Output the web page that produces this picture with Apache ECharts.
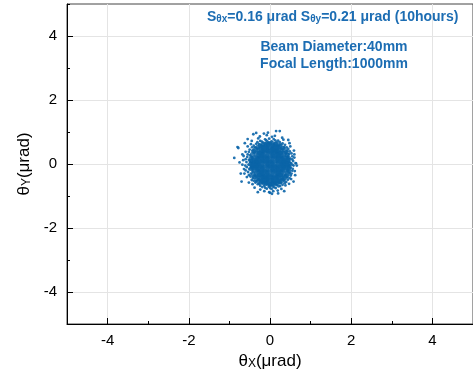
<!DOCTYPE html>
<html><head><meta charset="utf-8">
<script src="https://cdn.jsdelivr.net/npm/echarts@6/dist/echarts.min.js"></script>
<style>html,body{margin:0;padding:0;background:#fff}#c{width:473px;height:381px}</style>
</head><body><div id="c"></div>
<script>
const xTicks = [-4, -2, 0, 2, 4];
const yTicks = [-4, -2, 0, 2, 4];
const titleLine = 'S_θx=0.16 μrad S_θy=0.21 μrad (10hours)';
const noteLines = ['Beam Diameter:40mm', 'Focal Length:1000mm'];
// dense core of the cloud (estimated)
const corePoints = [
  [-0.36,-0.15],[-0.36,0],[-0.36,0.15],
  [-0.24,-0.4],[-0.24,-0.3],[-0.24,-0.15],[-0.24,0],[-0.24,0.15],[-0.24,0.3],[-0.24,0.4],
  [-0.12,-0.5],[-0.12,-0.45],[-0.12,-0.3],[-0.12,-0.15],[-0.12,0],[-0.12,0.15],[-0.12,0.3],[-0.12,0.45],[-0.12,0.5],
  [0,-0.55],[0,-0.45],[0,-0.3],[0,-0.15],[0,0],[0,0.15],[0,0.3],[0,0.45],[0,0.55],
  [0.12,-0.5],[0.12,-0.45],[0.12,-0.3],[0.12,-0.15],[0.12,0],[0.12,0.15],[0.12,0.3],[0.12,0.45],[0.12,0.5],
  [0.24,-0.4],[0.24,-0.3],[0.24,-0.15],[0.24,0],[0.24,0.15],[0.24,0.3],[0.24,0.4],
  [0.36,-0.15],[0.36,0],[0.36,0.15],
  [-0.3,0.3],[0.3,-0.3],[-0.3,-0.3],[0.3,0.3],[-0.18,0.48],[0.18,-0.48],[0.18,0.48],[-0.18,-0.48],
  [-0.3,-0.08],[-0.3,0.08],[-0.18,-0.23],[-0.18,0.23],[-0.06,-0.38],[0.06,0.38],[0.18,0.23],[0.18,-0.23],
  [0.3,0.08],[0.3,-0.08],[-0.06,0.08],[0.06,-0.08],[-0.4,0.08],[0.4,-0.08],[0.4,0.08],[-0.4,-0.08]
];
// medium-density ring around the core (estimated)
const ringPoints = [
  [0.45,0.12],[0.42,0.28],[0.36,0.44],[0.25,0.55],[0.14,0.62],[-0.04,0.62],[-0.18,0.6],[-0.3,0.52],[-0.4,0.4],[-0.46,0.18],
  [-0.44,-0.06],[-0.41,-0.32],[-0.33,-0.46],[-0.22,-0.56],[-0.1,-0.6],[0.06,-0.62],[0.18,-0.6],[0.28,-0.52],[0.37,-0.42],[0.44,-0.3],
  [0.46,-0.15],[0.47,0.0],[-0.47,0.0],[0.0,0.64],[0.0,-0.64],
  [0.44,0.2],[0.4,0.36],[0.31,0.5],[0.2,0.59],[0.08,0.63],[-0.1,0.63],[-0.24,0.57],[-0.36,0.46],[-0.44,0.3],[-0.47,0.09],
  [-0.46,-0.15],[-0.38,-0.4],[-0.28,-0.52],[-0.16,-0.59],[0.0,-0.63],[0.12,-0.61],[0.24,-0.56],[0.33,-0.47],[0.41,-0.37],[0.46,-0.23],[0.47,-0.07]
];
// scattered points around the core (estimated)
const spreadPoints = [
  [0.52,0.03],[0.50,0.17],[0.47,0.31],[0.43,0.41],[0.35,0.53],[0.27,0.61],[0.16,0.68],[0.04,0.71],[-0.06,0.70],[-0.17,0.67],
  [-0.27,0.62],[-0.36,0.52],[-0.43,0.42],[-0.49,0.27],[-0.52,0.13],[-0.53,-0.02],[-0.51,-0.16],[-0.47,-0.30],[-0.42,-0.43],[-0.34,-0.54],
  [-0.26,-0.62],[-0.14,-0.68],[-0.03,-0.71],[0.07,-0.70],[0.17,-0.66],[0.27,-0.60],[0.35,-0.52],[0.42,-0.41],[0.48,-0.27],[0.51,-0.12],
  [0.57,0.09],[0.55,0.24],[0.49,0.39],[0.41,0.52],[0.31,0.64],[0.20,0.73],[0.09,0.78],[-0.02,0.79],[-0.12,0.77],[-0.24,0.72],
  [-0.34,0.63],[-0.44,0.52],[-0.52,0.38],[-0.56,0.22],[-0.58,0.06],[-0.57,-0.10],[-0.54,-0.25],[-0.48,-0.39],[-0.40,-0.52],[-0.30,-0.63],
  [-0.19,-0.72],[-0.08,-0.77],[0.04,-0.78],[0.14,-0.75],[0.25,-0.69],[0.36,-0.60],[0.44,-0.49],[0.51,-0.36],[0.55,-0.21],[0.58,-0.05],
  [0.47,0.07],[0.44,0.22],[0.40,0.34],[0.30,0.47],[0.21,0.57],[0.10,0.63],[-0.01,0.66],[-0.11,0.64],[-0.22,0.58],[-0.31,0.48],
  [-0.39,0.36],[-0.45,0.21],[-0.48,0.06],[-0.46,-0.10],[-0.43,-0.24],[-0.37,-0.37],[-0.28,-0.49],[-0.19,-0.58],[-0.08,-0.64],[0.02,-0.66],
  [0.12,-0.63],[0.22,-0.57],[0.31,-0.47],[0.38,-0.35],[0.44,-0.21],[0.47,-0.07],
  [0.55,0.14],[0.53,0.33],[0.45,0.47],[0.37,0.6],[0.24,0.68],[0.13,0.74],[-0.09,0.74],[-0.2,0.7],[-0.31,0.68],[-0.4,0.57],
  [-0.5,0.45],[-0.55,0.3],[-0.6,0.15],[-0.61,-0.05],[-0.6,-0.2],[-0.52,-0.35],[-0.45,-0.5],[-0.36,-0.58],[-0.24,-0.68],[-0.12,-0.74],
  [0.0,-0.75],[0.1,-0.73],[0.21,-0.7],[0.31,-0.65],[0.4,-0.56],[0.48,-0.44],[0.53,-0.3],[0.56,-0.15],[0.55,-0.02],
  [0.64,0.02],[0.60,0.30],[0.50,0.55],[0.33,0.76],[0.12,0.88],[-0.08,0.90],[-0.29,0.80],[-0.47,0.62],[-0.60,0.38],[-0.66,0.12],
  [-0.64,-0.16],[-0.57,-0.41],[-0.43,-0.63],[-0.24,-0.80],[-0.02,-0.88],[0.19,-0.83],[0.38,-0.67],[0.52,-0.47],[0.61,-0.22],[0.59,0.42],
  [-0.65,0.25],[-0.63,-0.3],[-0.68,-0.02],[-0.55,0.55],[-0.45,0.72],[-0.25,0.86],[0.05,0.85],[0.3,0.82],[0.48,0.65],[0.6,0.2],
  [0.62,-0.35],[0.47,-0.62],[0.28,-0.78],[0.08,-0.85],[-0.14,-0.85],[-0.38,-0.74],[-0.52,-0.58],
  [-0.88,0.19],[-0.80,0.53],[-0.78,0.50],[-0.34,0.97],[-0.41,0.93],[0.15,1.03],[0.24,1.03],[-0.05,0.98],[0.00,-0.90],[0.05,-0.93],
  [0.63,0.03],[0.66,-0.05],[-0.72,-0.30],[-0.70,-0.55],[-0.55,0.78],[0.45,0.75],[0.35,-0.85],[-0.30,-0.88],[-0.62,0.65],[0.20,-0.92],
  [-0.15,0.95],[0.58,-0.55],[-0.75,0.05],[-0.68,0.30]
];

const blue = '#0a64a8';
const textBlue = '#1c6db3';
const chart = echarts.init(document.getElementById('c'));
function richTitle(s) {
  return s.split(/(S_θ[xy])/).filter(t => t).map(t => t.startsWith('S_') ? '{b|S}{s|' + t.slice(2) + '}' : '{b|' + t + '}').join('');
}
const axisFont = 'Liberation Sans, Arial, sans-serif';
const nameRich = {
  a: { fontSize: 17, fontFamily: axisFont, color: '#000', verticalAlign: 'bottom', lineHeight: 20 },
  s: { fontSize: 12, fontFamily: axisFont, color: '#000', verticalAlign: 'bottom', lineHeight: 14 }
};
const common = {
  type: 'value', min: -5, max: 5, interval: 1,
  axisLine: { show: true, onZero: false, lineStyle: { color: '#000', width: 1 } },
  splitLine: { show: true, lineStyle: { color: '#e4e4e4', width: 1 } },
  axisTick: { show: true, inside: true, length: 6, lineStyle: { color: '#000' } },
  axisLabel: { color: '#000', fontSize: 15, fontFamily: axisFont },
  nameLocation: 'middle'
};
const minorAxis = (pos) => ({ type: 'value', min: -5, max: 5, interval: 1, position: pos,
  axisLine: { show: false, onZero: false }, splitLine: { show: false }, axisLabel: { show: false },
  axisTick: { show: true, inside: true, length: 3, lineStyle: { color: '#000' } } });
chart.setOption({
  animation: false,
  grid: { left: 67, top: 4, width: 410, height: 320, show: true, borderColor: '#444', borderWidth: 1 },
  xAxis: [
    Object.assign({}, common, {
      position: 'bottom',
      axisTick: Object.assign({}, common.axisTick, { customValues: xTicks }),
      axisLabel: Object.assign({}, common.axisLabel, { customValues: xTicks, margin: 9 }),
      name: '{a|θ}{s|X}{a|(μrad)}', nameGap: 19, nameTextStyle: { rich: nameRich }
    }),
    minorAxis('bottom')
  ],
  yAxis: [
    Object.assign({}, common, {
      position: 'left',
      axisTick: Object.assign({}, common.axisTick, { customValues: yTicks }),
      axisLabel: Object.assign({}, common.axisLabel, { customValues: yTicks, margin: 10 }),
      name: '{a|θ}{s|Y}{a|(μrad)}', nameGap: 33, nameTextStyle: { rich: nameRich }
    }),
    minorAxis('left')
  ],
  graphic: [
    { type: 'text', z: 100, left: 207, top: 10, style: { text: richTitle(titleLine), rich: {
        b: { fontSize: 14, fontWeight: 'bold', fontFamily: axisFont, fill: textBlue, lineHeight: 17, verticalAlign: 'bottom' },
        s: { fontSize: 10, fontWeight: 'bold', fontFamily: axisFont, fill: textBlue, lineHeight: 13, verticalAlign: 'bottom' } } } },
    { type: 'text', z: 100, x: 334, y: 39, style: { text: noteLines.join('\n'), align: 'center', fontSize: 14, fontWeight: 'bold', fontFamily: axisFont, fill: textBlue, lineHeight: 16.5 } }
  ],
  series: [
    { type: 'scatter', xAxisIndex: 0, yAxisIndex: 0, data: spreadPoints, symbolSize: 2.8, itemStyle: { color: blue, opacity: 0.9 } },
    { type: 'scatter', xAxisIndex: 0, yAxisIndex: 0, data: ringPoints, symbolSize: 5, itemStyle: { color: blue } },
    { type: 'scatter', xAxisIndex: 0, yAxisIndex: 0, data: corePoints, symbolSize: 8, itemStyle: { color: blue } }
  ]
});
</script></body></html>
